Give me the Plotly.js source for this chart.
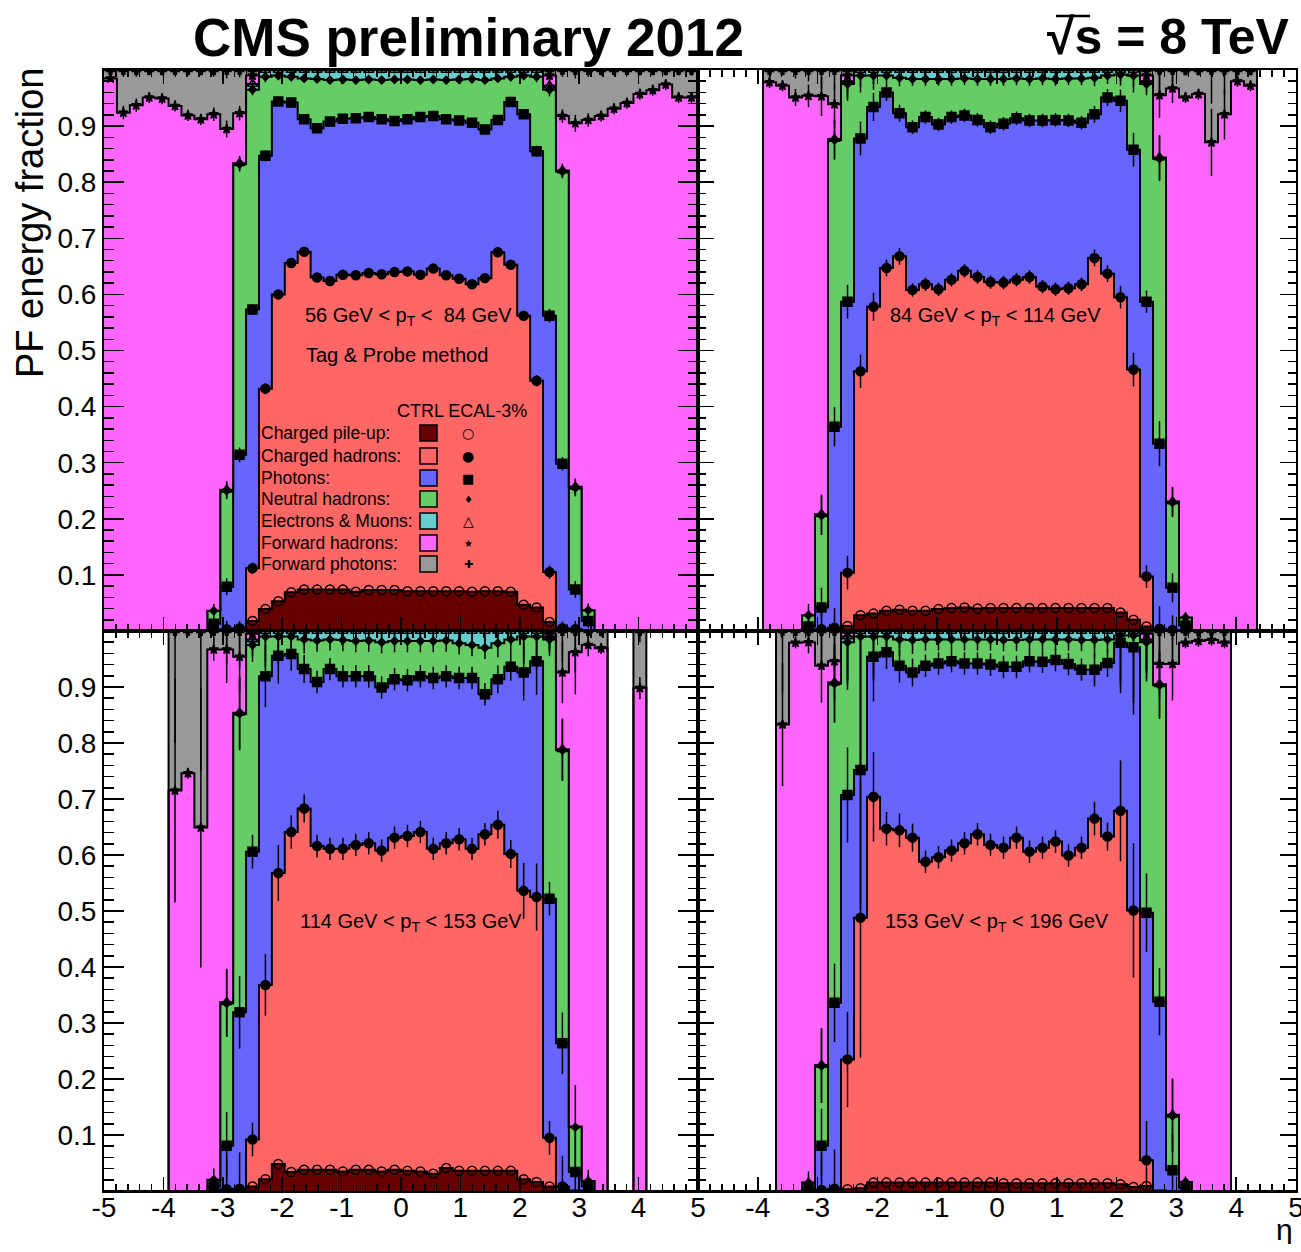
<!DOCTYPE html>
<html><head><meta charset="utf-8">
<script src="https://cdn.plot.ly/plotly-3.0.1.min.js"></script>
<style>html,body{margin:0;padding:0;background:#fff}#plot{width:1301px;height:1252px}</style>
</head><body><div id="plot"></div>
<script>
// ---------------- binning ----------------
const ETA_MIN = -5, ETA_MAX = 5, N_BINS = 46;

// ---------------- categories / labels ----------------
const COMPONENTS = ['Charged pile-up:', 'Charged hadrons:', 'Photons:', 'Neutral hadrons:', 'Electrons & Muons:', 'Forward hadrons:', 'Forward photons:'];
const PT_LABELS = ['56 GeV < p<sub>T</sub> <\u00a0 84 GeV', '84 GeV < p<sub>T</sub> < 114 GeV', '114 GeV < p<sub>T</sub> < 153 GeV', '153 GeV < p<sub>T</sub> < 196 GeV'];
const X_TICKS_LEFT = [-5, -4, -3, -2, -1, 0, 1, 2, 3, 4, 5];
const X_TICKS_RIGHT = [-4, -3, -2, -1, 0, 1, 2, 3, 4, 5];
const X_TICK_TEXT_LEFT = ['-5', '-4', '-3', '-2', '-1', '0', '1', '2', '3', '4', '5'];
const X_TICK_TEXT_RIGHT = ['-4', '-3', '-2', '-1', '0', '1', '2', '3', '4', '5'];
const Y_TICKS = [0.1, 0.2, 0.3, 0.4, 0.5, 0.6, 0.7, 0.8, 0.9];

// ---------------- data: cumulative PF energy fraction (stack tops) per eta bin ----------------
// ---- panel 1: 56 < pT < 84 GeV
const P1_pileup   = [0,0,0,0,0,0,0,0,0,0, 0.002,0.018,0.039,0.053,0.069,0.074,0.074,0.074,0.074,0.070,0.073,0.073,0.073,0.071,0.071,0.071,0.071,0.071,0.070,0.071,0.071,0.070,0.047,0.042,0.016,0.003, 0,0,0,0,0,0,0,0,0,0];
const P1_chhad    = [0,0,0,0,0,0,0,0,0, 0.003,0.005,0.112,0.432,0.600,0.656,0.676,0.630,0.624,0.635,0.634,0.638,0.636,0.640,0.641,0.635,0.646,0.634,0.628,0.618,0.629,0.675,0.653,0.562,0.446,0.105,0.005,0.003, 0,0,0,0,0,0,0,0,0];
const P1_photons  = [0,0,0,0,0,0,0,0, 0.013,0.079,0.314,0.573,0.847,0.944,0.942,0.912,0.896,0.908,0.913,0.914,0.916,0.912,0.909,0.912,0.916,0.918,0.912,0.910,0.906,0.894,0.911,0.943,0.921,0.855,0.562,0.298,0.074,0.018, 0,0,0,0,0,0,0,0];
const P1_nhad     = [0,0,0,0,0,0,0,0, 0.036,0.250,0.832,0.965,0.988,0.990,0.988,0.985,0.984,0.982,0.983,0.982,0.983,0.982,0.983,0.983,0.982,0.983,0.982,0.983,0.984,0.982,0.985,0.988,0.990,0.988,0.965,0.819,0.255,0.037, 0,0,0,0,0,0,0,0];
const P1_elmu     = [0,0,0,0,0,0,0,0, 0.036,0.252,0.834,0.975,1,1,1,1,1,1,1,1,1,1,1,1,1,1,1,1,1,1,1,1,1,1,0.972,0.821,0.257,0.037, 0,0,0,0,0,0,0,0];
const P1_fwdhad   = [0.985,0.924,0.937,0.951,0.949,0.936,0.919,0.912,0.921,0.895,0.923,0.990,1,1,1,1,1,1,1,1,1,1,1,1,1,1,1,1,1,1,1,1,1,1,0.990,0.918,0.905,0.911,0.918,0.931,0.941,0.957,0.964,0.974,0.951,0.951];
const P1_fwdpho   = [1,1,1,1,1,1,1,1,1,1,1,1,1,1,1,1,1,1,1,1,1,1,1,1,1,1,1,1,1,1,1,1,1,1,1,1,1,1,1,1,1,1,1,1,1,1];
const P1_err      = [0.005,0.012,0.012,0.01,0.01,0.01,0.01,0.01,0.012,0.015,0.013,0.01,0.01,0.008,0.008,0.006,0.006,0.006,0.006,0.006,0.006,0.006,0.006,0.006,0.006,0.006,0.006,0.006,0.006,0.006,0.006,0.008,0.008,0.01,0.012,0.012,0.015,0.012,0.01,0.01,0.01,0.01,0.01,0.01,0.01,0.01];

// ---- panel 2: 84 < pT < 114 GeV
const P2_pileup   = [0,0,0,0,0,0,0,0,0,0, 0.002,0.009,0.028,0.031,0.036,0.038,0.036,0.036,0.039,0.041,0.042,0.040,0.041,0.041,0.041,0.041,0.041,0.041,0.041,0.041,0.041,0.041,0.033,0.020,0.008,0.002, 0,0,0,0,0,0,0,0,0,0];
const P2_chhad    = [0,0,0,0,0,0,0,0,0, 0.003,0.006,0.104,0.463,0.578,0.647,0.668,0.608,0.618,0.609,0.626,0.642,0.631,0.622,0.621,0.626,0.631,0.614,0.609,0.611,0.618,0.665,0.637,0.595,0.466,0.097,0.004,0.002, 0,0,0,0,0,0,0,0,0];
const P2_photons  = [0,0,0,0,0,0,0,0, 0.008,0.042,0.364,0.587,0.878,0.934,0.960,0.923,0.898,0.916,0.903,0.916,0.919,0.911,0.898,0.904,0.914,0.910,0.910,0.911,0.910,0.906,0.921,0.951,0.945,0.858,0.587,0.334,0.077,0.010, 0,0,0,0,0,0,0,0];
const P2_nhad     = [0,0,0,0,0,0,0,0, 0.028,0.206,0.875,0.975,0.990,0.990,0.990,0.986,0.984,0.984,0.984,0.984,0.985,0.984,0.984,0.984,0.985,0.984,0.985,0.984,0.985,0.985,0.986,0.990,0.992,0.990,0.975,0.842,0.229,0.024, 0,0,0,0,0,0,0,0];
const P2_elmu     = [0,0,0,0,0,0,0,0, 0.028,0.208,0.877,0.980,1,1,1,1,1,1,1,1,1,1,1,1,1,1,1,1,1,1,1,1,1,1,0.980,0.844,0.231,0.024, 0,0,0,0,0,0,0,0];
const P2_fwdhad   = [0,0,0,0,0, 0.978,0.972,0.951,0.954,0.953,0.939,0.990,1,1,1,1,1,1,1,1,1,1,1,1,1,1,1,1,1,1,1,1,1,1,0.990,0.955,0.967,0.951,0.957,0.871,0.921,0.980,0.972, 0,0,0];
const P2_fwdpho   = [0,0,0,0,0, 1,1,1,1,1,1,1,1,1,1,1,1,1,1,1,1,1,1,1,1,1,1,1,1,1,1,1,1,1,1,1,1,1,1,1,1,1,1, 0,0,0];
const P2_err      = [0,0,0,0,0, 0.01,0.01,0.015,0.02,0.035,0.035,0.03,0.03,0.025,0.015,0.015,0.012,0.012,0.012,0.012,0.012,0.012,0.012,0.012,0.012,0.012,0.012,0.012,0.012,0.012,0.015,0.015,0.02,0.03,0.02,0.04,0.026,0.01,0.01,0.06,0.045,0.01,0.01, 0,0,0];

// ---- panel 3: 114 < pT < 153 GeV
const P3_pileup   = [0,0,0,0,0,0,0,0,0,0, 0.001,0.008,0.021,0.048,0.034,0.038,0.038,0.038,0.035,0.038,0.038,0.035,0.038,0.036,0.035,0.031,0.041,0.036,0.036,0.036,0.036,0.036,0.021,0.016,0.008,0.001, 0,0,0,0,0,0,0,0,0,0];
const P3_chhad    = [0,0,0,0,0,0,0,0,0, 0.003,0.004,0.092,0.368,0.568,0.641,0.683,0.616,0.611,0.611,0.618,0.621,0.608,0.631,0.634,0.641,0.611,0.621,0.628,0.611,0.637,0.654,0.602,0.536,0.525,0.095,0.008,0.001, 0,0,0,0,0,0,0,0,0];
const P3_photons  = [0,0,0,0,0,0,0,0, 0.008,0.081,0.319,0.606,0.919,0.956,0.959,0.932,0.909,0.932,0.919,0.919,0.919,0.899,0.914,0.912,0.919,0.916,0.919,0.916,0.916,0.887,0.914,0.936,0.926,0.946,0.522,0.264,0.034,0.008, 0,0,0,0,0,0,0,0];
const P3_nhad     = [0,0,0,0,0,0,0,0, 0.020,0.335,0.852,0.975,0.990,0.990,0.990,0.985,0.983,0.985,0.984,0.982,0.983,0.980,0.982,0.982,0.982,0.982,0.983,0.978,0.975,0.970,0.978,0.985,0.990,0.990,0.985,0.787,0.114,0.018, 0,0,0,0,0,0,0,0];
const P3_elmu     = [0,0,0,0,0,0,0,0, 0.020,0.337,0.854,0.985,1,1,1,1,1,1,1,1,1,1,1,1,1,1,1,1,1,1,1,1,1,1,0.990,0.789,0.115,0.018, 0,0,0,0,0,0,0,0];
const P3_fwdhad   = [0,0,0,0,0, 0.715,0.746,0.649,0.967,0.967,0.954,0.995,1,1,1,1,1,1,1,1,1,1,1,1,1,1,1,1,1,1,1,1,1,1,0.995,0.926,0.962,0.975,0.969, 0,0, 0.898, 0,0,0,0];
const P3_fwdpho   = [0,0,0,0,0, 1,1,1,1,1,1,1,1,1,1,1,1,1,1,1,1,1,1,1,1,1,1,1,1,1,1,1,1,1,1,1,1,1,1, 0,0, 1, 0,0,0,0];
const P3_err      = [0,0,0,0,0, 0.2,0.01,0.25,0.02,0.06,0.065,0.03,0.055,0.05,0.03,0.025,0.02,0.02,0.02,0.02,0.02,0.02,0.02,0.02,0.02,0.02,0.02,0.02,0.02,0.02,0.025,0.025,0.05,0.06,0.03,0.055,0.075,0.02,0.01, 0,0, 0.02, 0,0,0,0];

// ---- panel 4: 153 < pT < 196 GeV
const P4_pileup   = [0,0,0,0,0,0,0,0,0,0, 0.001,0.003,0.005,0.015,0.015,0.015,0.015,0.015,0.015,0.015,0.015,0.015,0.015,0.014,0.014,0.014,0.014,0.014,0.014,0.014,0.014,0.014,0.012,0.007,0.009, 0,0,0,0,0,0,0,0,0,0,0];
const P4_chhad    = [0,0,0,0,0,0,0,0,0, 0.002,0.004,0.235,0.488,0.704,0.647,0.644,0.631,0.588,0.596,0.608,0.621,0.637,0.618,0.613,0.631,0.606,0.613,0.624,0.599,0.613,0.665,0.633,0.679,0.501,0.055,0.001, 0,0,0,0,0,0,0,0,0,0];
const P4_photons  = [0,0,0,0,0,0,0,0, 0.005,0.081,0.336,0.707,0.752,0.954,0.962,0.938,0.926,0.938,0.942,0.946,0.942,0.942,0.940,0.936,0.936,0.946,0.945,0.948,0.941,0.931,0.931,0.943,0.979,0.971,0.497,0.338,0.037,0.006, 0,0,0,0,0,0,0,0];
const P4_nhad     = [0,0,0,0,0,0,0,0, 0.015,0.223,0.906,0.980,0.990,0.990,0.990,0.985,0.984,0.985,0.985,0.985,0.985,0.985,0.985,0.984,0.984,0.985,0.985,0.985,0.985,0.984,0.984,0.985,0.992,0.992,0.980,0.903,0.134,0.016, 0,0,0,0,0,0,0,0];
const P4_elmu     = [0,0,0,0,0,0,0,0, 0.015,0.225,0.908,0.990,1,1,1,1,1,1,1,1,1,1,1,1,1,1,1,1,1,1,1,1,1,1,0.985,0.905,0.136,0.016, 0,0,0,0,0,0,0,0];
const P4_fwdhad   = [0,0,0,0,0,0, 0.833,0.979,0.980,0.938,0.946,0.997,1,1,1,1,1,1,1,1,1,1,1,1,1,1,1,1,1,1,1,1,1,1,0.995,0.941,0.941,0.979,0.982,0.984,0.979, 0,0,0,0,0];
const P4_fwdpho   = [0,0,0,0,0,0, 1,1,1,1,1,1,1,1,1,1,1,1,1,1,1,1,1,1,1,1,1,1,1,1,1,1,1,1,1,1,1,1,1,1,1, 0,0,0,0,0];
const P4_err      = [0,0,0,0,0,0, 0.11,0.01,0.02,0.066,0.07,0.085,0.25,0.08,0.03,0.03,0.025,0.02,0.02,0.02,0.02,0.02,0.02,0.02,0.02,0.02,0.02,0.02,0.02,0.02,0.03,0.025,0.09,0.12,0.07,0.06,0.065,0.01,0.01,0.01,0.01, 0,0,0,0,0];

// ---------------- styling ----------------
const FONT = 'Liberation Sans, Arial, Helvetica, sans-serif';
const FILL_COLORS = ['#660000', '#ff6666', '#6666ff', '#66cc66', '#66cccc', '#ff66ff', '#999999'];
const MARKERS = [
  {symbol: 'circle-open', size: 9},
  {symbol: 'circle', size: 9},
  {symbol: 'square', size: 9},
  {symbol: 'diamond', size: 6},
  {symbol: 'triangle-up-open', size: 9},
  {symbol: 'star', size: 7},
  {symbol: 'cross', size: 7}
];
const LEGEND_GLYPHS = ['○', '●', '■', '♦', '△', '★', '✚'];
const LEGEND_GLYPH_SIZE = [14, 14, 13, 10, 14, 10, 11];

const W = 1301, H = 1252;
const fx = p => p / W, fy = p => 1 - p / H;

const panels = [
  {xa: 'x',  ya: 'y',  layers: [P1_pileup, P1_chhad, P1_photons, P1_nhad, P1_elmu, P1_fwdhad, P1_fwdpho], err: P1_err},
  {xa: 'x2', ya: 'y2', layers: [P2_pileup, P2_chhad, P2_photons, P2_nhad, P2_elmu, P2_fwdhad, P2_fwdpho], err: P2_err},
  {xa: 'x3', ya: 'y3', layers: [P3_pileup, P3_chhad, P3_photons, P3_nhad, P3_elmu, P3_fwdhad, P3_fwdpho], err: P3_err},
  {xa: 'x4', ya: 'y4', layers: [P4_pileup, P4_chhad, P4_photons, P4_nhad, P4_elmu, P4_fwdhad, P4_fwdpho], err: P4_err}
];

const binW = (ETA_MAX - ETA_MIN) / N_BINS;
const EDGES = [], CENTERS = [];
for (let i = 0; i <= N_BINS; i++) EDGES.push(ETA_MIN + i * binW);
for (let i = 0; i < N_BINS; i++) CENTERS.push(ETA_MIN + (i + 0.5) * binW);

const traces = [];
// stacked histogram areas
panels.forEach(p => {
  p.layers.forEach((cum, k) => {
    traces.push({
      type: 'scatter', mode: 'lines', x: EDGES, y: cum.concat([cum[cum.length - 1]]),
      xaxis: p.xa, yaxis: p.ya,
      line: {shape: 'hv', color: 'black', width: 2},
      fill: k === 0 ? 'tozeroy' : 'tonexty', fillcolor: FILL_COLORS[k],
      hoverinfo: 'skip', showlegend: false
    });
  });
});
// marker overlays (CTRL ECAL-3%)
panels.forEach(p => {
  p.layers.forEach((cum, k) => {
    const xs = [], ys = [], es = [];
    cum.forEach((v, i) => {
      const below = k === 0 ? 0 : p.layers[k - 1][i];
      if (v - below > 0.0015) { xs.push(CENTERS[i]); ys.push(v); es.push(p.err[i]); }
    });
    const tr = {
      type: 'scatter', mode: 'markers', x: xs, y: ys, xaxis: p.xa, yaxis: p.ya,
      marker: {symbol: MARKERS[k].symbol, size: MARKERS[k].size, color: 'black', line: {color: 'black', width: 1.5}},
      hoverinfo: 'skip', showlegend: false
    };
    if (k > 0) tr.error_y = {type: 'data', array: es, visible: true, color: 'black', thickness: 1.5, width: 0};
    traces.push(tr);
  });
});

const TICK_FONT = {family: FONT, size: 28, color: 'black'};
function xAxis(dom, labels, vals, text) {
  return {
    domain: dom, range: [ETA_MIN, ETA_MAX], tickmode: 'array', tickvals: vals, ticktext: text,
    showline: true, linecolor: 'black', linewidth: 2, mirror: 'ticks',
    ticks: 'inside', ticklen: 14, tickwidth: 1.5, tickcolor: 'black',
    minor: {tickmode: 'linear', ticks: 'inside', ticklen: 7, dtick: 0.2, tick0: 0, tickwidth: 1.5, tickcolor: 'black'},
    showgrid: false, zeroline: false, showticklabels: labels, ticklabeloverflow: 'allow',
    ticklabelstandoff: -10,
    tickfont: TICK_FONT, fixedrange: true
  };
}
function yAxis(dom, labels, tl) {
  return {
    domain: dom, range: [0, 1], tickmode: 'array', tickvals: Y_TICKS,
    showline: true, linecolor: 'black', linewidth: 2, mirror: 'ticks',
    ticks: 'inside', ticklen: tl, tickwidth: 1.5, tickcolor: 'black',
    minor: {tickmode: 'linear', ticks: 'inside', ticklen: tl / 2, dtick: 0.02, tick0: 0, tickwidth: 1.5, tickcolor: 'black'},
    showgrid: false, zeroline: false, showticklabels: labels,
    tickfont: TICK_FONT, fixedrange: true
  };
}
const XL = [fx(104), fx(698)], XR = [fx(698), fx(1296)];
const YT = [fy(631), fy(70)], YB = [fy(1191), fy(631)];

const annotations = [];
const shapes = [];
function txt(text, x, y, size, opts) {
  annotations.push(Object.assign({text: text, x: fx(x), y: fy(y), xref: 'paper', yref: 'paper', showarrow: false,
    xanchor: 'left', yanchor: 'middle', font: {family: FONT, size: size, color: 'black'}}, opts || {}));
}
txt('<b>CMS preliminary 2012</b>', 468, 37, 53, {xanchor: 'center'});
txt('<b>\u221As = 8 TeV</b>', 1292, 37, 50, {xanchor: 'right'});
shapes.push({type: 'line', xref: 'paper', yref: 'paper', x0: fx(1056), x1: fx(1090), y0: fy(16), y1: fy(16), line: {color: 'black', width: 2.5}});
txt('PF energy fraction', 30, 66, 38, {xanchor: 'center', yanchor: 'top', textangle: -90});
txt('\u03B7', 1284, 1246, 30, {xanchor: 'center', yanchor: 'bottom', height: 30});
txt(PT_LABELS[0], 303, 316, 20);
txt('Tag & Probe method', 304, 355, 20);
txt(PT_LABELS[1], 888, 316, 20);
txt(PT_LABELS[2], 298, 923, 20);
txt(PT_LABELS[3], 883, 923, 20);
// legend
txt('CTRL ECAL-3%', 395, 411, 18);
const LEG_ROWS = [433, 456, 478, 499, 521, 543, 564];
COMPONENTS.forEach((name, k) => {
  const r = LEG_ROWS[k];
  txt(name, 259, r, 17.5);
  shapes.push({type: 'rect', xref: 'paper', yref: 'paper', x0: fx(420), x1: fx(437), y0: fy(r + 8), y1: fy(r - 8),
    fillcolor: FILL_COLORS[k], line: {color: 'black', width: 1.5}});
  annotations.push({text: LEGEND_GLYPHS[k], x: fx(468), y: fy(r), xref: 'paper', yref: 'paper', showarrow: false,
    xanchor: 'center', yanchor: 'middle', font: {family: 'DejaVu Sans', size: LEGEND_GLYPH_SIZE[k], color: 'black'}});
});

const layout = {
  width: W, height: H, margin: {l: 0, r: 0, t: 0, b: 0},
  paper_bgcolor: 'white', plot_bgcolor: 'white', showlegend: false,
  xaxis: Object.assign(xAxis(XL, false, X_TICKS_LEFT, X_TICK_TEXT_LEFT), {anchor: 'y'}),
  yaxis: Object.assign(yAxis(YT, true, 20), {anchor: 'x'}),
  xaxis2: Object.assign(xAxis(XR, false, X_TICKS_RIGHT, X_TICK_TEXT_RIGHT), {anchor: 'y2'}),
  yaxis2: Object.assign(yAxis(YT, false, 16), {anchor: 'x2'}),
  xaxis3: Object.assign(xAxis(XL, true, X_TICKS_LEFT, X_TICK_TEXT_LEFT), {anchor: 'y3'}),
  yaxis3: Object.assign(yAxis(YB, true, 20), {anchor: 'x3'}),
  xaxis4: Object.assign(xAxis(XR, true, X_TICKS_RIGHT, X_TICK_TEXT_RIGHT), {anchor: 'y4'}),
  yaxis4: Object.assign(yAxis(YB, false, 16), {anchor: 'x4'}),
  annotations: annotations, shapes: shapes
};

Plotly.newPlot('plot', traces, layout, {displayModeBar: false, staticPlot: true});
</script>
</body></html>
